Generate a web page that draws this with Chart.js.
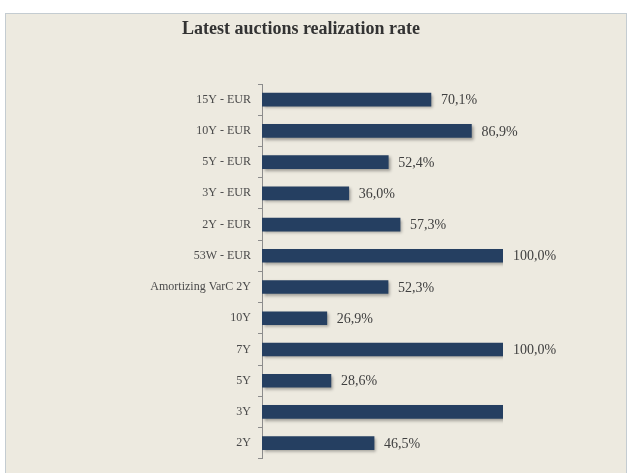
<!DOCTYPE html>
<html>
<head>
<meta charset="utf-8">
<script src="https://cdn.jsdelivr.net/npm/chart.js@4"></script>
<style>
  html, body { margin: 0; padding: 0; background: #ffffff; }
  #panel {
    position: absolute;
    left: 5px;
    top: 13px;
    width: 620px;
    height: 470px;
    background: #EDEAE0;
    border: 1px solid #C4CCD1;
    border-bottom: none;
  }
  #panel canvas { display: block; }
</style>
</head>
<body>
<div id="panel">
  <canvas id="chart" width="620" height="459"></canvas>
</div>
<script>
// Categories, top to bottom
const categories = [
    "15Y - EUR", "10Y - EUR", "5Y - EUR", "3Y - EUR", "2Y - EUR", "53W - EUR",
    "Amortizing VarC 2Y", "10Y", "7Y", "5Y", "3Y", "2Y"
];

// Realization rate (%)
const realization = [70.1, 86.9, 52.4, 36.0, 57.3, 100.0, 52.3, 26.9, 100.0, 28.6, 100.0, 46.5];

// Labels shown next to the bars (the 3Y bar has none in the original)
const valueLabels = ["70,1%", "86,9%", "52,4%", "36,0%", "57,3%", "100,0%",
    "52,3%", "26,9%", "100,0%", "28,6%", "", "46,5%"];

const chartTitle = "Latest auctions realization rate";

const serif = "'Liberation Serif', 'Times New Roman', serif";

// Title drawn a little left of centre, like the original
const titlePlugin = {
    id: "titlePlugin",
    afterDraw(chart) {
        const ctx = chart.ctx;
        ctx.save();
        ctx.font = "bold 18px " + serif;
        ctx.fillStyle = "#333333";
        ctx.textAlign = "center";
        ctx.textBaseline = "alphabetic";
        ctx.fillText(chartTitle, 295, 20);
        ctx.restore();
    }
};

// Soft drop shadow under the bars
const shadowPlugin = {
    id: "shadowPlugin",
    beforeDatasetDraw(chart) {
        const ctx = chart.ctx;
        ctx.save();
        ctx.shadowColor = "rgba(0, 0, 0, 0.35)";
        ctx.shadowOffsetX = 2;
        ctx.shadowOffsetY = 2;
        ctx.shadowBlur = 3;
    },
    afterDatasetDraw(chart) {
        chart.ctx.restore();
    }
};

// Value labels at the end of each bar
const valueLabelPlugin = {
    id: "valueLabelPlugin",
    afterDatasetsDraw(chart) {
        const ctx = chart.ctx;
        const meta = chart.getDatasetMeta(0);
        ctx.save();
        ctx.font = "14px " + serif;
        ctx.fillStyle = "#404040";
        ctx.textAlign = "left";
        ctx.textBaseline = "middle";
        meta.data.forEach((bar, i) => {
            if (valueLabels[i]) {
                ctx.fillText(valueLabels[i], bar.x + 10, bar.y + 1);
            }
        });
        ctx.restore();
    }
};

const ctx = document.getElementById("chart").getContext("2d");

new Chart(ctx, {
    type: "bar",
    data: {
        labels: categories,
        datasets: [{
            data: realization,
            backgroundColor: "#253F61",
            borderWidth: 0,
            barThickness: 13
        }]
    },
    options: {
        indexAxis: "y",
        responsive: false,
        animation: false,
        layout: {
            padding: { top: 70, right: 123, bottom: 12, left: 0 }
        },
        plugins: {
            legend: { display: false },
            title: { display: false },
            tooltip: { enabled: false }
        },
        scales: {
            x: {
                display: false,
                min: 0,
                max: 100
            },
            y: {
                afterFit(scale) {
                    scale.width = 256;
                },
                border: { display: true, color: "#8c8c8c", width: 1 },
                grid: {
                    display: true,
                    offset: true,
                    drawOnChartArea: false,
                    drawTicks: true,
                    tickLength: 4,
                    color: "#8c8c8c"
                },
                ticks: {
                    padding: 7,
                    color: "#4a4a4a",
                    font: { family: serif, size: 12 }
                }
            }
        }
    },
    plugins: [shadowPlugin, valueLabelPlugin, titlePlugin]
});
</script>
</body>
</html>
